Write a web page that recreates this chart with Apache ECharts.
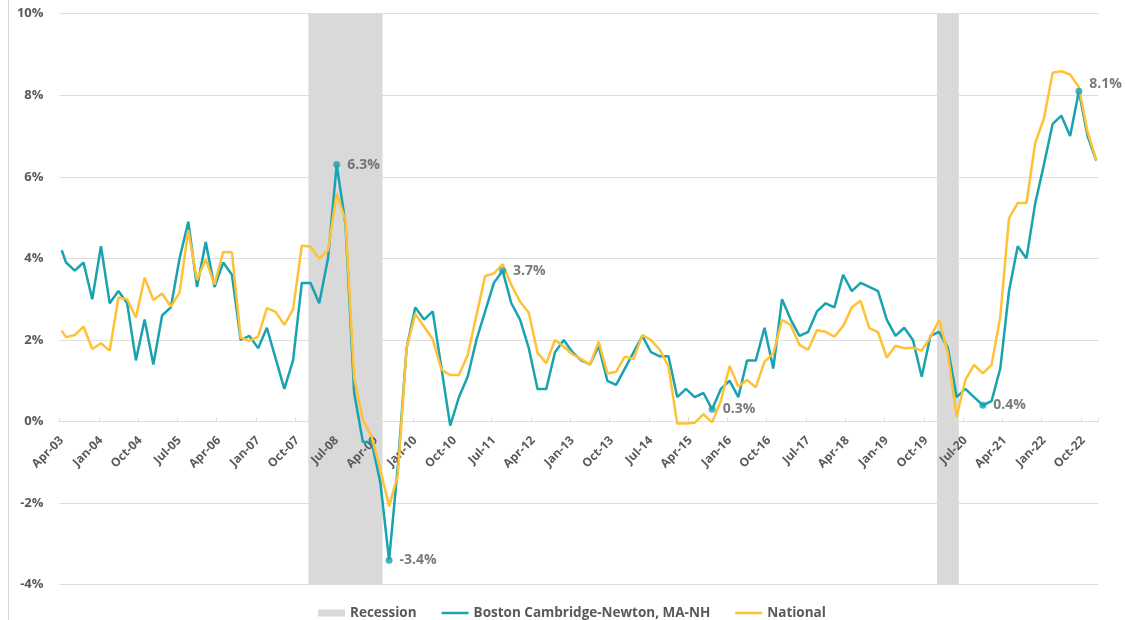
<!DOCTYPE html>
<html>
<head>
<meta charset="utf-8">
<script src="https://cdn.jsdelivr.net/npm/echarts@6/dist/echarts.min.js"></script>
<style>
  html, body { margin: 0; padding: 0; background: #ffffff; }
  #chart { width: 1125px; height: 620px; }
</style>
</head>
<body>
<div id="chart"></div>
<script>
// ---- Data ----
const monthNames = ['Jan','Feb','Mar','Apr','May','Jun','Jul','Aug','Sep','Oct','Nov','Dec'];
// Monthly categories Apr-03 .. Jan-23 (axis slots)
const categories = [];
for (let i = 0; i < 238; i++) {
  const k = 3 + i;
  categories.push(monthNames[k % 12] + '-' + String(3 + Math.floor(k / 12)).padStart(2, '0'));
}
// Observation months: Apr-03, then every odd month (May-03, Jul-03, ...)
const obsMonths = [categories[0]];
for (let i = 1; i < categories.length; i += 2) obsMonths.push(categories[i]);

// Boston Cambridge-Newton, MA-NH CPI, y/y % change
const boston = [
  4.2, 3.9, 3.7, 3.9, 3.0, 4.3, 2.9, 3.2, 2.9, 1.5,
  2.5, 1.4, 2.6, 2.8, 4.0, 4.9, 3.3, 4.4, 3.3, 3.9,
  3.6, 2.0, 2.1, 1.8, 2.3, 1.55, 0.8, 1.5, 3.4, 3.4,
  2.9, 4.0, 6.3, 4.85, 0.7, -0.5, -0.5, -1.5, -3.4, -1.1,
  1.8, 2.8, 2.5, 2.7,
  1.3, -0.1, 0.6, 1.1, 2.0, 2.7, 3.4, 3.7, 2.9, 2.5,
  1.8, 0.8, 0.8, 1.7, 2.0, 1.7, 1.5, 1.4, 1.85, 1.0,
  0.9, 1.3, 1.7, 2.1, 1.7, 1.6, 1.6, 0.6,
  0.8, 0.6, 0.7, 0.3, 0.8, 1.0, 0.6, 1.5, 1.5, 2.3,
  1.3, 3.0, 2.5, 2.1, 2.2, 2.7, 2.9, 2.8, 3.6, 3.2,
  3.4, 3.3, 3.2, 2.5, 2.1, 2.3, 2.0, 1.1, 2.1,
  2.2, 1.8, 0.6, 0.8, 0.6, 0.4, 0.5, 1.3, 3.2, 4.3,
  4.0, 5.35, 6.3, 7.3, 7.5, 7.0, 8.1, 7.0, 6.4
];
// National CPI, y/y % change
const national = [
  2.23, 2.07, 2.12, 2.33, 1.78, 1.92, 1.74, 3.04, 3.0, 2.55,
  3.53, 2.98, 3.14, 2.82, 3.16, 4.69, 3.47, 3.98, 3.36, 4.16,
  4.15, 2.06, 1.98, 2.08, 2.78, 2.69, 2.37, 2.75, 4.31, 4.29,
  3.99, 4.2, 5.59, 4.94, 1.06, 0.04, -0.37, -1.18, -2.08, -1.31,
  1.8, 2.64, 2.33, 2.02,
  1.27, 1.14, 1.14, 1.63, 2.6, 3.57, 3.63, 3.86, 3.35, 2.94,
  2.67, 1.69, 1.43, 2.0, 1.84, 1.65, 1.53, 1.39, 1.96, 1.18,
  1.22, 1.59, 1.53, 2.12, 2.0, 1.76, 1.35, -0.05,
  -0.05, -0.03, 0.18, -0.02, 0.51, 1.36, 0.86, 1.02, 0.84, 1.47,
  1.67, 2.49, 2.37, 1.88, 1.76, 2.24, 2.2, 2.08, 2.34, 2.8,
  2.96, 2.29, 2.19, 1.57, 1.86, 1.8, 1.81, 1.74, 2.07,
  2.49, 1.67, 0.12, 1.02, 1.39, 1.18, 1.39, 2.57, 4.98, 5.36,
  5.36, 6.83, 7.43, 8.55, 8.59, 8.51, 8.2, 7.1, 6.41
];
// Recession periods (first and last month shaded)
const recessions = [['Jan-08', 'May-09'], ['Jan-20', 'May-20']];
// Boston points called out with a label
const calloutMonths = ['Jul-08', 'Jul-09', 'Sep-11', 'Sep-15', 'Nov-20', 'Sep-22'];
// Y axis range
const yMin = -4, yMax = 10, yStep = 2;

// ---- Build ----
const TEAL = '#19A2AF', GOLD = '#FFC135', BAND = '#D9D9D9', TXT = '#595959', GRID = '#DEDEDE';
const FONT = '"Open Sans", "Liberation Sans", sans-serif';
const GRID_TOP = 13.7, GRID_BOTTOM = 35.3, H = 620;
// move the category axis up onto the 0% line
const plotH = H - GRID_TOP - GRID_BOTTOM;
const zeroOffset = -plotH * (0 - yMin) / (yMax - yMin);

const LINE_ICON = 'path://M0,0h1v0.01h-1z M0,2.25h27v2.5h-27z M0,7h1v-0.01h-1z';

const bostonData = obsMonths.map((m, i) => [m, boston[i]]);
const nationalData = obsMonths.map((m, i) => [m, national[i]]);
const calloutData = calloutMonths.map(m => {
  const v = boston[obsMonths.indexOf(m)];
  const item = { value: [m, v] };
  if (m === 'Sep-22') item.label = { offset: [0, -7] };
  return item;
});

const chart = echarts.init(document.getElementById('chart'), null, { renderer: 'canvas' });
chart.setOption({
  animation: false,
  backgroundColor: '#ffffff',
  textStyle: { fontFamily: FONT },
  grid: { left: 59.5, right: 26.5, top: GRID_TOP, bottom: GRID_BOTTOM, containLabel: false, outerBoundsMode: 'none' },
  graphic: [{
    type: 'line', shape: { x1: 8.5, y1: 0, x2: 8.5, y2: 620 },
    style: { stroke: '#D9D9D9', lineWidth: 1 }, silent: true
  }],
  legend: {
    left: 313, top: 601,
    itemWidth: 27, itemHeight: 7, itemGap: 25,
    textStyle: { color: TXT, fontWeight: 'bold', fontSize: 13.5, fontFamily: FONT },
    data: [
      { name: 'Recession', icon: 'rect' },
      { name: 'Boston Cambridge-Newton, MA-NH', icon: LINE_ICON },
      { name: 'National', icon: LINE_ICON }
    ]
  },
  xAxis: {
    type: 'category',
    data: categories,
    boundaryGap: true,
    offset: zeroOffset,
    z: 2,
    axisLine: { onZero: false, lineStyle: { color: GRID, width: 1 } },
    axisTick: { show: true, inside: true, length: 4, interval: 8, lineStyle: { color: GRID } },
    axisLabel: {
      interval: 8, rotate: 45, margin: 17,
      color: TXT, fontWeight: 'bold', fontSize: 12, fontFamily: FONT
    },
    splitLine: { show: false }
  },
  yAxis: {
    type: 'value',
    min: yMin, max: yMax, interval: yStep,
    axisLine: { show: false },
    axisTick: { show: false },
    axisLabel: {
      formatter: '{value}%', margin: 16,
      color: TXT, fontWeight: 'bold', fontSize: 13, fontFamily: FONT
    },
    splitLine: { lineStyle: { color: GRID, width: 1 } }
  },
  series: [
    {
      name: 'Recession',
      type: 'custom',
      itemStyle: { color: BAND },
      encode: { x: [0, 1] },
      data: recessions,
      renderItem: function (params, api) {
        const s = api.value(0), e = api.value(1);
        const bw = api.size([1, 0])[0];
        const p0 = api.coord([s, yMax]);
        const p1 = api.coord([e, yMin]);
        return {
          type: 'rect',
          shape: { x: p0[0] - bw / 2, y: p0[1], width: p1[0] - p0[0] + bw, height: p1[1] - p0[1] },
          style: { fill: BAND }
        };
      },
      z: 1
    },
    {
      name: 'Boston Cambridge-Newton, MA-NH',
      type: 'line',
      data: bostonData,
      symbol: 'none',
      lineStyle: { color: TEAL, width: 2.5 },
      itemStyle: { color: TEAL },
      z: 3
    },
    {
      name: 'National',
      type: 'line',
      data: nationalData,
      symbol: 'none',
      lineStyle: { color: GOLD, width: 2.5 },
      itemStyle: { color: GOLD },
      z: 4
    },
    {
      name: 'callouts',
      type: 'scatter',
      data: calloutData,
      symbol: 'circle',
      symbolSize: 7,
      itemStyle: { color: TEAL },
      label: {
        show: true, position: 'right', distance: 7,
        formatter: p => p.value[1].toFixed(1) + '%',
        color: TXT, fontWeight: 'bold', fontSize: 14, fontFamily: FONT
      },
      z: 5
    }
  ]
});
</script>
</body>
</html>
